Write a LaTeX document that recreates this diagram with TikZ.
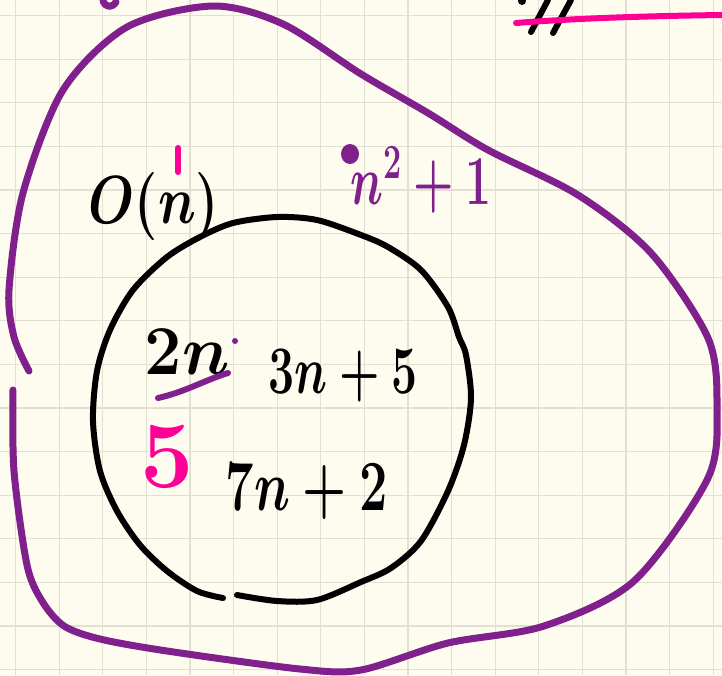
\documentclass[tikz,border=0pt]{standalone}
\usepackage{fix-cm}
\usepackage{amsmath,amssymb}
\definecolor{paper}{RGB}{254,252,238}
\definecolor{gridline}{RGB}{226,224,210}
\definecolor{setpurple}{RGB}{128,32,140}
\definecolor{markpink}{RGB}{255,0,150}
\tikzset{
    bigset/.style={setpurple,line width=7pt},
    subset/.style={black,line width=6pt},
    pinkmark/.style={markpink,line width=6pt},
    hand/.style={inner sep=0pt,font=\boldmath\fontsize{#1}{#1}\selectfont}
}
\begin{document}
\begin{tikzpicture}[line cap=round,line join=round,
    x=1pt,y=-1pt]
\fill[paper] (0,0) rectangle (722,675);
\useasboundingbox (0,0) rectangle (722,675);
\foreach \k in {0,...,16}
{
    \draw[gridline,line width=1.2pt] (15.5+43.6*\k,0)--(15.5+43.6*\k,675);
}
\foreach \k in {0,...,15}
{
    \draw[gridline,line width=1.2pt] (0,15.5+43.6*\k)--(722,15.5+43.6*\k);
}
\draw[bigset] plot[smooth] coordinates {
    (13,390) (14,471) (27,565) (42,601) (64,626) (100,639) (167,651)
    (300,669) (361,670) (448,643) (544,626) (634,581) (708,478) (717,405)
    (708,338) (651,253) (578,195) (488,150) (428,113) (361,74) (283,24)
    (213,6) (127,27) (63,90) (23,193) (9,290) (14,337) (29,371)};
\draw[bigset] (103,1) .. controls (106,8) and (112,8) .. (116,2);
\draw[subset] plot[smooth] coordinates {
    (237,595) (277,601) (317,600) (361,582) (391,568) (421,541) (448,491)
    (464,445) (471,398) (466,355) (459,337) (448,307) (421,270) (388,247)
    (361,235) (317,220) (277,217) (233,223) (200,237) (167,257) (133,290)
    (110,330) (97,371) (93,421) (100,471) (117,511) (140,545) (167,571)
    (197,591) (223,598)};
\draw[subset] (531,32)--(548,0);
\draw[subset] (553,33)--(571,0);
\fill (522,1) circle (4pt);
\draw[pinkmark] (516,23) .. controls (580,18) and (650,16) .. (722,15);
\node[hand=68,xscale=0.78] (bigO) at (154,206) {$O(n)$};
\draw[pinkmark] (178,148)--(178,172);
\fill[setpurple] (350,154) ellipse (9pt and 10pt);
\node[hand=70,xscale=0.66,setpurple] (nsq) at (421,180) {$n^2+1$};
\node[hand=70,xscale=0.95] (twon) at (187,352) {$2n$};
\draw[setpurple,line width=6pt] (158,398) .. controls (185,392) and (205,380) .. (228,373);
\fill[setpurple] (235,341) circle (3pt);
\node[hand=68,xscale=0.68] (threen) at (343,376) {$3n+5$};
\node[hand=72,xscale=0.7] (sevenn) at (307,492) {$7n+2$};
\node[hand=95,markpink] (five) at (167,457) {$5$};
\end{tikzpicture}
\end{document}
